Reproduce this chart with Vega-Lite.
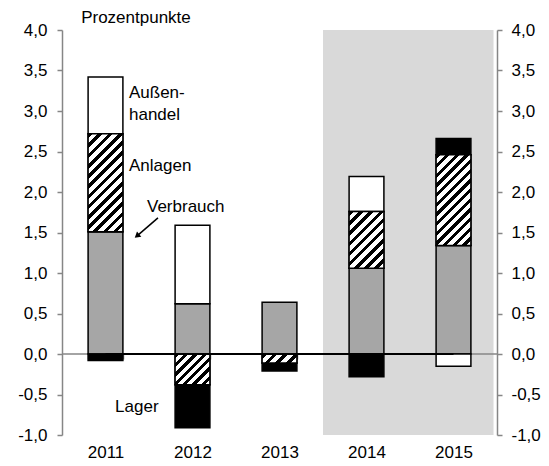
{
  "$schema": "https://vega.github.io/schema/vega-lite/v6.json",
  "width": 435,
  "height": 405,
  "autosize": {"type": "none"},
  "padding": {"left": 62, "top": 30, "right": 52, "bottom": 31},
  "background": "white",
  "config": {"font": "Liberation Sans", "text": {"font": "Liberation Sans"}, "view": {"stroke": null}},
  "datasets": {
    "bars": [
      {"year": "2011", "component": "Verbrauch", "nr": 1, "value": 1.51},
      {"year": "2011", "component": "Anlagen", "nr": 2, "value": 1.21},
      {"year": "2011", "component": "Außenhandel", "nr": 3, "value": 0.70},
      {"year": "2011", "component": "Lager", "nr": 4, "value": -0.08},
      {"year": "2012", "component": "Verbrauch", "nr": 1, "value": 0.62},
      {"year": "2012", "component": "Anlagen", "nr": 2, "value": -0.38},
      {"year": "2012", "component": "Außenhandel", "nr": 3, "value": 0.97},
      {"year": "2012", "component": "Lager", "nr": 4, "value": -0.53},
      {"year": "2013", "component": "Verbrauch", "nr": 1, "value": 0.64},
      {"year": "2013", "component": "Anlagen", "nr": 2, "value": -0.11},
      {"year": "2013", "component": "Lager", "nr": 4, "value": -0.10},
      {"year": "2014", "component": "Verbrauch", "nr": 1, "value": 1.06},
      {"year": "2014", "component": "Anlagen", "nr": 2, "value": 0.70},
      {"year": "2014", "component": "Außenhandel", "nr": 3, "value": 0.43},
      {"year": "2014", "component": "Lager", "nr": 4, "value": -0.28},
      {"year": "2015", "component": "Verbrauch", "nr": 1, "value": 1.34},
      {"year": "2015", "component": "Anlagen", "nr": 2, "value": 1.12},
      {"year": "2015", "component": "Außenhandel", "nr": 3, "value": -0.15},
      {"year": "2015", "component": "Lager", "nr": 4, "value": 0.20}
    ],
    "span": [{"period": "Prognose", "from": 3, "to": 4.96}],
    "notes": [
      {"label": "Prozentpunkte", "x": 0.22, "y": 4.15},
      {"label": "Außen-", "x": 0.77, "y": 3.22},
      {"label": "handel", "x": 0.77, "y": 2.95},
      {"label": "Anlagen", "x": 0.77, "y": 2.32},
      {"label": "Verbrauch", "x": 0.977, "y": 1.81},
      {"label": "Lager", "x": 0.61, "y": -0.65}
    ],
    "arrow": [{"x": 1.103, "y": 1.68, "x2": 0.87, "y2": 1.465}]
  },
  "resolve": {"scale": {"x": "independent"}, "axis": {"x": "independent", "y": "independent"}},
  "layer": [
    {
      "data": {"name": "span"},
      "mark": {"type": "rect", "color": "#d9d9d9"},
      "encoding": {
        "x": {"field": "from", "type": "quantitative", "scale": {"domain": [0, 5], "nice": false, "zero": false}, "axis": null},
        "x2": {"field": "to"},
        "y": {"datum": -1, "type": "quantitative", "scale": {"domain": [-1, 4], "nice": false, "zero": false},
          "axis": {"orient": "left", "title": null, "values": [-1, -0.5, 0, 0.5, 1, 1.5, 2, 2.5, 3, 3.5, 4],
            "labelExpr": "replace(replace(format(datum.value, '.1f'), '.', ','), '\u2212', '-')",
            "grid": false, "domainColor": "#868686", "domainWidth": 1.5, "tickColor": "#868686", "tickWidth": 1.5, "tickSize": 5,
            "labelFontSize": 17, "labelColor": "#000", "labelPadding": 10, "labelFont": "Liberation Sans"}},
        "y2": {"datum": 4}
      }
    },
    {
      "data": {"name": "span"},
      "mark": {"type": "rule", "color": "#868686", "strokeWidth": 1.5},
      "encoding": {
        "y": {"datum": 0, "type": "quantitative", "axis": {
          "orient": "right", "title": null, "values": [-1, -0.5, 0, 0.5, 1, 1.5, 2, 2.5, 3, 3.5, 4],
          "labelExpr": "replace(replace(format(datum.value, '.1f'), '.', ','), '\u2212', '-')",
          "grid": false, "domainColor": "#868686", "domainWidth": 1.5, "tickColor": "#868686", "tickWidth": 1.5, "tickSize": 5,
          "labelFontSize": 17, "labelColor": "#000", "labelPadding": 9, "labelFont": "Liberation Sans"
        }}
      }
    },
    {
      "data": {"name": "bars"},
      "transform": [
        {"stack": "value", "groupby": ["year"], "sort": [{"field": "nr", "order": "ascending"}], "as": ["v0", "v1"]}
      ],
      "mark": {"type": "bar", "stroke": "#000", "strokeWidth": 1.5},
      "encoding": {
        "x": {"field": "year", "type": "nominal",
          "scale": {"domain": ["2011", "2012", "2013", "2014", "2015"], "paddingInner": 0.6, "paddingOuter": 0.3},
          "axis": {"orient": "bottom", "title": null, "offset": -81, "domain": false, "tickBand": "extent",
            "tickColor": "#868686", "tickWidth": 1.5, "tickSize": 5, "labelAngle": 0,
            "labelFontSize": 17, "labelColor": "#000", "labelPadding": 85, "labelFont": "Liberation Sans"}},
        "y": {"field": "v1", "type": "quantitative", "axis": null},
        "y2": {"field": "v0"},
        "fill": {"field": "component", "type": "nominal",
          "scale": {"domain": ["Verbrauch", "Anlagen", "Außenhandel", "Lager"], "range": ["#a6a6a6", "#ffffff", "#ffffff", "#000000"]},
          "legend": null}
      }
    },
    {
      "data": {"name": "bars"},
      "transform": [
        {"stack": "value", "groupby": ["year"], "sort": [{"field": "nr", "order": "ascending"}], "as": ["v0", "v1"]},
        {"filter": "datum.component === 'Anlagen' && datum.year === '2011'"}
      ],
      "mark": {"type": "bar", "stroke": "#000", "strokeWidth": 1.5,
        "fill": {"gradient": "linear", "x1": 0, "y1": 0, "x2": 0.4273, "y2": 1.2034, "stops": [
          {"offset": 0, "color": "#000"}, {"offset": 0.0346, "color": "#000"}, {"offset": 0.0346, "color": "#fff"}, {"offset": 0.0769, "color": "#fff"},
          {"offset": 0.0769, "color": "#000"}, {"offset": 0.1115, "color": "#000"}, {"offset": 0.1115, "color": "#fff"}, {"offset": 0.1538, "color": "#fff"},
          {"offset": 0.1538, "color": "#000"}, {"offset": 0.1885, "color": "#000"}, {"offset": 0.1885, "color": "#fff"}, {"offset": 0.2308, "color": "#fff"},
          {"offset": 0.2308, "color": "#000"}, {"offset": 0.2654, "color": "#000"}, {"offset": 0.2654, "color": "#fff"}, {"offset": 0.3077, "color": "#fff"},
          {"offset": 0.3077, "color": "#000"}, {"offset": 0.3423, "color": "#000"}, {"offset": 0.3423, "color": "#fff"}, {"offset": 0.3846, "color": "#fff"},
          {"offset": 0.3846, "color": "#000"}, {"offset": 0.4192, "color": "#000"}, {"offset": 0.4192, "color": "#fff"}, {"offset": 0.4615, "color": "#fff"},
          {"offset": 0.4615, "color": "#000"}, {"offset": 0.4962, "color": "#000"}, {"offset": 0.4962, "color": "#fff"}, {"offset": 0.5385, "color": "#fff"},
          {"offset": 0.5385, "color": "#000"}, {"offset": 0.5731, "color": "#000"}, {"offset": 0.5731, "color": "#fff"}, {"offset": 0.6154, "color": "#fff"},
          {"offset": 0.6154, "color": "#000"}, {"offset": 0.65, "color": "#000"}, {"offset": 0.65, "color": "#fff"}, {"offset": 0.6923, "color": "#fff"},
          {"offset": 0.6923, "color": "#000"}, {"offset": 0.7269, "color": "#000"}, {"offset": 0.7269, "color": "#fff"}, {"offset": 0.7692, "color": "#fff"},
          {"offset": 0.7692, "color": "#000"}, {"offset": 0.8038, "color": "#000"}, {"offset": 0.8038, "color": "#fff"}, {"offset": 0.8462, "color": "#fff"},
          {"offset": 0.8462, "color": "#000"}, {"offset": 0.8808, "color": "#000"}, {"offset": 0.8808, "color": "#fff"}, {"offset": 0.9231, "color": "#fff"},
          {"offset": 0.9231, "color": "#000"}, {"offset": 0.9577, "color": "#000"}, {"offset": 0.9577, "color": "#fff"}, {"offset": 1, "color": "#fff"}
        ]}},
      "encoding": {
        "x": {"field": "year", "type": "nominal", "scale": {"domain": ["2011", "2012", "2013", "2014", "2015"], "paddingInner": 0.6, "paddingOuter": 0.3}, "axis": null},
        "y": {"field": "v1", "type": "quantitative", "axis": null},
        "y2": {"field": "v0"}
      }
    },
    {
      "data": {"name": "bars"},
      "transform": [
        {"stack": "value", "groupby": ["year"], "sort": [{"field": "nr", "order": "ascending"}], "as": ["v0", "v1"]},
        {"filter": "datum.component === 'Anlagen' && datum.year === '2012'"}
      ],
      "mark": {"type": "bar", "stroke": "#000", "strokeWidth": 1.5,
        "fill": {"gradient": "linear", "x1": 0, "y1": 0, "x2": 1.0571, "y2": 0.9356, "stops": [
          {"offset": 0, "color": "#000"}, {"offset": 0.0643, "color": "#000"}, {"offset": 0.0643, "color": "#fff"}, {"offset": 0.1429, "color": "#fff"},
          {"offset": 0.1429, "color": "#000"}, {"offset": 0.2071, "color": "#000"}, {"offset": 0.2071, "color": "#fff"}, {"offset": 0.2857, "color": "#fff"},
          {"offset": 0.2857, "color": "#000"}, {"offset": 0.35, "color": "#000"}, {"offset": 0.35, "color": "#fff"}, {"offset": 0.4286, "color": "#fff"},
          {"offset": 0.4286, "color": "#000"}, {"offset": 0.4929, "color": "#000"}, {"offset": 0.4929, "color": "#fff"}, {"offset": 0.5714, "color": "#fff"},
          {"offset": 0.5714, "color": "#000"}, {"offset": 0.6357, "color": "#000"}, {"offset": 0.6357, "color": "#fff"}, {"offset": 0.7143, "color": "#fff"},
          {"offset": 0.7143, "color": "#000"}, {"offset": 0.7786, "color": "#000"}, {"offset": 0.7786, "color": "#fff"}, {"offset": 0.8571, "color": "#fff"},
          {"offset": 0.8571, "color": "#000"}, {"offset": 0.9214, "color": "#000"}, {"offset": 0.9214, "color": "#fff"}, {"offset": 1, "color": "#fff"}
        ]}},
      "encoding": {
        "x": {"field": "year", "type": "nominal", "scale": {"domain": ["2011", "2012", "2013", "2014", "2015"], "paddingInner": 0.6, "paddingOuter": 0.3}, "axis": null},
        "y": {"field": "v1", "type": "quantitative", "axis": null},
        "y2": {"field": "v0"}
      }
    },
    {
      "data": {"name": "bars"},
      "transform": [
        {"stack": "value", "groupby": ["year"], "sort": [{"field": "nr", "order": "ascending"}], "as": ["v0", "v1"]},
        {"filter": "datum.component === 'Anlagen' && datum.year === '2013'"}
      ],
      "mark": {"type": "bar", "stroke": "#000", "strokeWidth": 1.5,
        "fill": {"gradient": "linear", "x1": 0, "y1": 0, "x2": 1.1787, "y2": 0.3014, "stops": [
          {"offset": 0, "color": "#000"}, {"offset": 0.1125, "color": "#000"}, {"offset": 0.1125, "color": "#fff"}, {"offset": 0.25, "color": "#fff"},
          {"offset": 0.25, "color": "#000"}, {"offset": 0.3625, "color": "#000"}, {"offset": 0.3625, "color": "#fff"}, {"offset": 0.5, "color": "#fff"},
          {"offset": 0.5, "color": "#000"}, {"offset": 0.6125, "color": "#000"}, {"offset": 0.6125, "color": "#fff"}, {"offset": 0.75, "color": "#fff"},
          {"offset": 0.75, "color": "#000"}, {"offset": 0.8625, "color": "#000"}, {"offset": 0.8625, "color": "#fff"}, {"offset": 1, "color": "#fff"}
        ]}},
      "encoding": {
        "x": {"field": "year", "type": "nominal", "scale": {"domain": ["2011", "2012", "2013", "2014", "2015"], "paddingInner": 0.6, "paddingOuter": 0.3}, "axis": null},
        "y": {"field": "v1", "type": "quantitative", "axis": null},
        "y2": {"field": "v0"}
      }
    },
    {
      "data": {"name": "bars"},
      "transform": [
        {"stack": "value", "groupby": ["year"], "sort": [{"field": "nr", "order": "ascending"}], "as": ["v0", "v1"]},
        {"filter": "datum.component === 'Anlagen' && datum.year === '2014'"}
      ],
      "mark": {"type": "bar", "stroke": "#000", "strokeWidth": 1.5,
        "fill": {"gradient": "linear", "x1": 0, "y1": 0, "x2": 0.7194, "y2": 1.1722, "stops": [
          {"offset": 0, "color": "#000"}, {"offset": 0.05, "color": "#000"}, {"offset": 0.05, "color": "#fff"}, {"offset": 0.1111, "color": "#fff"},
          {"offset": 0.1111, "color": "#000"}, {"offset": 0.1611, "color": "#000"}, {"offset": 0.1611, "color": "#fff"}, {"offset": 0.2222, "color": "#fff"},
          {"offset": 0.2222, "color": "#000"}, {"offset": 0.2722, "color": "#000"}, {"offset": 0.2722, "color": "#fff"}, {"offset": 0.3333, "color": "#fff"},
          {"offset": 0.3333, "color": "#000"}, {"offset": 0.3833, "color": "#000"}, {"offset": 0.3833, "color": "#fff"}, {"offset": 0.4444, "color": "#fff"},
          {"offset": 0.4444, "color": "#000"}, {"offset": 0.4944, "color": "#000"}, {"offset": 0.4944, "color": "#fff"}, {"offset": 0.5556, "color": "#fff"},
          {"offset": 0.5556, "color": "#000"}, {"offset": 0.6056, "color": "#000"}, {"offset": 0.6056, "color": "#fff"}, {"offset": 0.6667, "color": "#fff"},
          {"offset": 0.6667, "color": "#000"}, {"offset": 0.7167, "color": "#000"}, {"offset": 0.7167, "color": "#fff"}, {"offset": 0.7778, "color": "#fff"},
          {"offset": 0.7778, "color": "#000"}, {"offset": 0.8278, "color": "#000"}, {"offset": 0.8278, "color": "#fff"}, {"offset": 0.8889, "color": "#fff"},
          {"offset": 0.8889, "color": "#000"}, {"offset": 0.9389, "color": "#000"}, {"offset": 0.9389, "color": "#fff"}, {"offset": 1, "color": "#fff"}
        ]}},
      "encoding": {
        "x": {"field": "year", "type": "nominal", "scale": {"domain": ["2011", "2012", "2013", "2014", "2015"], "paddingInner": 0.6, "paddingOuter": 0.3}, "axis": null},
        "y": {"field": "v1", "type": "quantitative", "axis": null},
        "y2": {"field": "v0"}
      }
    },
    {
      "data": {"name": "bars"},
      "transform": [
        {"stack": "value", "groupby": ["year"], "sort": [{"field": "nr", "order": "ascending"}], "as": ["v0", "v1"]},
        {"filter": "datum.component === 'Anlagen' && datum.year === '2015'"}
      ],
      "mark": {"type": "bar", "stroke": "#000", "strokeWidth": 1.5,
        "fill": {"gradient": "linear", "x1": 0, "y1": 0, "x2": 0.4628, "y2": 1.2061, "stops": [
          {"offset": 0, "color": "#000"}, {"offset": 0.0346, "color": "#000"}, {"offset": 0.0346, "color": "#fff"}, {"offset": 0.0769, "color": "#fff"},
          {"offset": 0.0769, "color": "#000"}, {"offset": 0.1115, "color": "#000"}, {"offset": 0.1115, "color": "#fff"}, {"offset": 0.1538, "color": "#fff"},
          {"offset": 0.1538, "color": "#000"}, {"offset": 0.1885, "color": "#000"}, {"offset": 0.1885, "color": "#fff"}, {"offset": 0.2308, "color": "#fff"},
          {"offset": 0.2308, "color": "#000"}, {"offset": 0.2654, "color": "#000"}, {"offset": 0.2654, "color": "#fff"}, {"offset": 0.3077, "color": "#fff"},
          {"offset": 0.3077, "color": "#000"}, {"offset": 0.3423, "color": "#000"}, {"offset": 0.3423, "color": "#fff"}, {"offset": 0.3846, "color": "#fff"},
          {"offset": 0.3846, "color": "#000"}, {"offset": 0.4192, "color": "#000"}, {"offset": 0.4192, "color": "#fff"}, {"offset": 0.4615, "color": "#fff"},
          {"offset": 0.4615, "color": "#000"}, {"offset": 0.4962, "color": "#000"}, {"offset": 0.4962, "color": "#fff"}, {"offset": 0.5385, "color": "#fff"},
          {"offset": 0.5385, "color": "#000"}, {"offset": 0.5731, "color": "#000"}, {"offset": 0.5731, "color": "#fff"}, {"offset": 0.6154, "color": "#fff"},
          {"offset": 0.6154, "color": "#000"}, {"offset": 0.65, "color": "#000"}, {"offset": 0.65, "color": "#fff"}, {"offset": 0.6923, "color": "#fff"},
          {"offset": 0.6923, "color": "#000"}, {"offset": 0.7269, "color": "#000"}, {"offset": 0.7269, "color": "#fff"}, {"offset": 0.7692, "color": "#fff"},
          {"offset": 0.7692, "color": "#000"}, {"offset": 0.8038, "color": "#000"}, {"offset": 0.8038, "color": "#fff"}, {"offset": 0.8462, "color": "#fff"},
          {"offset": 0.8462, "color": "#000"}, {"offset": 0.8808, "color": "#000"}, {"offset": 0.8808, "color": "#fff"}, {"offset": 0.9231, "color": "#fff"},
          {"offset": 0.9231, "color": "#000"}, {"offset": 0.9577, "color": "#000"}, {"offset": 0.9577, "color": "#fff"}, {"offset": 1, "color": "#fff"}
        ]}},
      "encoding": {
        "x": {"field": "year", "type": "nominal", "scale": {"domain": ["2011", "2012", "2013", "2014", "2015"], "paddingInner": 0.6, "paddingOuter": 0.3}, "axis": null},
        "y": {"field": "v1", "type": "quantitative", "axis": null},
        "y2": {"field": "v0"}
      }
    },
    {
      "data": {"name": "bars"},
      "transform": [{"filter": "datum.component === 'Verbrauch'"}],
      "mark": {"type": "line", "color": "#000", "strokeWidth": 2},
      "encoding": {
        "x": {"field": "year", "type": "nominal", "scale": {"domain": ["2011", "2012", "2013", "2014", "2015"], "paddingInner": 0.6, "paddingOuter": 0.3}, "axis": null},
        "y": {"datum": 0, "type": "quantitative", "axis": null}
      }
    },
    {
      "data": {"name": "notes"},
      "mark": {"type": "text", "align": "left", "baseline": "middle", "fontSize": 17, "color": "#000", "font": "Liberation Sans"},
      "encoding": {
        "x": {"field": "x", "type": "quantitative", "scale": {"domain": [0, 5], "nice": false, "zero": false}, "axis": null},
        "y": {"field": "y", "type": "quantitative", "axis": null},
        "text": {"field": "label"}
      }
    },
    {
      "data": {"name": "arrow"},
      "mark": {"type": "rule", "color": "#000", "strokeWidth": 1.5},
      "encoding": {
        "x": {"field": "x", "type": "quantitative", "scale": {"domain": [0, 5], "nice": false, "zero": false}, "axis": null},
        "x2": {"field": "x2"},
        "y": {"field": "y", "type": "quantitative", "axis": null},
        "y2": {"field": "y2"}
      }
    },
    {
      "data": {"name": "arrow"},
      "mark": {"type": "point", "shape": "triangle", "filled": true, "color": "#000", "size": 45, "angle": 230, "opacity": 1},
      "encoding": {
        "x": {"field": "x2", "type": "quantitative", "scale": {"domain": [0, 5], "nice": false, "zero": false}, "axis": null},
        "y": {"field": "y2", "type": "quantitative", "axis": null}
      }
    }
  ]
}
